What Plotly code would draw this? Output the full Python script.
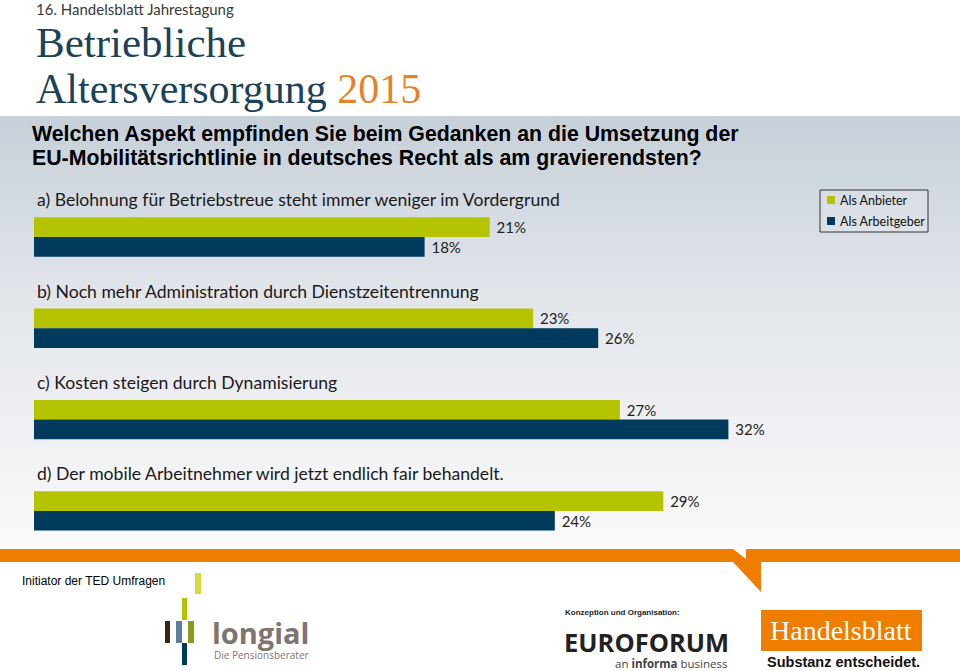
import plotly.graph_objects as go

W, H = 960, 671

categories = ["a", "b", "c", "d"]
category_labels = [
    "a) Belohnung für Betriebstreue steht immer weniger im Vordergrund",
    "b) Noch mehr Administration durch Dienstzeitentrennung",
    "c) Kosten steigen durch Dynamisierung",
    "d) Der mobile Arbeitnehmer wird jetzt endlich fair behandelt.",
]
anbieter = [21, 23, 27, 29]
arbeitgeber = [18, 26, 32, 24]
series_names = ["Als Anbieter", "Als Arbeitgeber"]

GREEN = "#b5c400"
NAVY = "#003a5d"
ORANGE = "#ee7d00"


def px(x):
    return x / W


def py(y):
    return 1 - y / H


LABEL_FONT = dict(family="Lato, Open Sans, sans-serif", size=15, color="#222222")

fig = go.Figure()
fig.add_trace(go.Bar(
    y=categories, x=anbieter, orientation="h", name=series_names[0],
    marker=dict(color=GREEN, line=dict(width=0)),
    text=[f" {v}%" for v in anbieter], textposition="outside",
    constraintext="none", cliponaxis=False, textfont=LABEL_FONT,
    hoverinfo="skip", showlegend=False,
))
fig.add_trace(go.Bar(
    y=categories, x=arbeitgeber, orientation="h", name=series_names[1],
    marker=dict(color=NAVY, line=dict(width=0)),
    text=[f" {v}%" for v in arbeitgeber], textposition="outside",
    constraintext="none", cliponaxis=False, textfont=LABEL_FONT,
    hoverinfo="skip", showlegend=False,
))

shapes = []
# gradient background
top, bot = 116, 546
n = 43
c0 = (200, 209, 218)
c1 = (225, 229, 234)
c2 = (250, 250, 251)
for i in range(n):
    y0 = top + (bot - top) * i / n
    y1 = top + (bot - top) * (i + 1) / n + 0.6
    t = i / (n - 1)
    if t < 0.4:
        u = t / 0.4
        c = tuple(int(c0[k] + (c1[k] - c0[k]) * u) for k in range(3))
    else:
        u = (t - 0.4) / 0.6
        c = tuple(int(c1[k] + (c2[k] - c1[k]) * u) for k in range(3))
    shapes.append(dict(type="rect", xref="paper", yref="paper", x0=0, x1=1,
                       y0=py(y1), y1=py(y0), fillcolor=f"rgb{c}",
                       line=dict(width=0), layer="below"))

# orange footer band with tail
pts = [(0, 549), (733, 549), (746, 559), (746, 549), (960, 549), (960, 562),
       (761, 562), (761, 592), (733, 562), (0, 562)]
path = "M " + " L ".join(f"{px(x):.5f},{py(y):.5f}" for x, y in pts) + " Z"
shapes.append(dict(type="path", xref="paper", yref="paper", path=path,
                   fillcolor=ORANGE, line=dict(width=0)))

# longial logo blocks
logo = [
    (195, 201, 573, 594, "#d8dc3a"),
    (182, 187, 598, 620, "#b5c400"),
    (165, 170, 621, 643, "#3a2418"),
    (176, 182, 621, 643, "#5b7f9c"),
    (188, 194, 621, 643, "#8a9a1a"),
    (182, 187, 643, 665, "#003a5d"),
]
for x0, x1, y0, y1, col in logo:
    shapes.append(dict(type="rect", xref="paper", yref="paper",
                       x0=px(x0), x1=px(x1), y0=py(y1), y1=py(y0),
                       fillcolor=col, line=dict(width=0)))

# Handelsblatt box
shapes.append(dict(type="rect", xref="paper", yref="paper",
                   x0=px(761), x1=px(922), y0=py(651), y1=py(610),
                   fillcolor=ORANGE, line=dict(width=0)))

# legend box and swatches
shapes.append(dict(type="rect", xref="paper", yref="paper",
                   x0=px(820), x1=px(928), y0=py(232), y1=py(190),
                   fillcolor="rgba(255,255,255,0.15)", line=dict(color="#333", width=1)))
for (yy, col) in [(200, GREEN), (221, NAVY)]:
    shapes.append(dict(type="rect", xref="paper", yref="paper",
                       x0=px(827), x1=px(835), y0=py(yy + 4), y1=py(yy - 4),
                       fillcolor=col, line=dict(width=0)))

ann = []


def text(x, y, s, size, color="#000", family="Liberation Sans, Arial", xanchor="left", **kw):
    ann.append(dict(x=px(x), y=py(y), xref="paper", yref="paper", text=s,
                    showarrow=False, xanchor=xanchor, yanchor="middle",
                    font=dict(size=size, color=color, family=family), **kw))


# legend labels
text(838, 200, series_names[0], 12.5, "#111", "Lato, Open Sans, sans-serif")
text(838, 221, series_names[1], 12.5, "#111", "Lato, Open Sans, sans-serif")

# header
text(34, 9, "16. Handelsblatt Jahrestagung", 15, "#3a3a3a", "Lato, Open Sans, sans-serif")
text(34, 43, "Betriebliche", 43, "#1b4258", "Liberation Serif, serif")
text(34, 89, "Altersversorgung <span style='color:#e5822a'>2015</span>", 42, "#1b4258",
     "Liberation Serif, serif")

# question
text(30, 134, "<b>Welchen Aspekt empfinden Sie beim Gedanken an die Umsetzung der</b>", 21.3,
     "#000", "Liberation Sans Narrow, Arial Narrow, Liberation Sans")
text(30, 158, "<b>EU-Mobilitätsrichtlinie in deutsches Recht als am gravierendsten?</b>", 21.3,
     "#000", "Liberation Sans Narrow, Arial Narrow, Liberation Sans")

# category labels
for cat, lab in zip(categories, category_labels):
    ann.append(dict(x=0, y=cat, xref="x", yref="y", text=lab, showarrow=False,
                    xanchor="left", yanchor="middle", yshift=37, xshift=1,
                    font=dict(size=17.6, color="#1a1a1a", family="Lato, Open Sans, sans-serif")))

# footer
text(20, 581, "Initiator der TED Umfragen", 12, "#000", "Liberation Sans, Arial")
text(210, 632, "<b>longial</b>", 29, "#7d7570", "Open Sans, Lato, sans-serif")
text(212, 655, "Die Pensionsberater", 10, "#7d7570", "Open Sans, Lato, sans-serif")
text(563, 612, "<b>Konzeption und Organisation:</b>", 8, "#222", "Liberation Sans, Arial")
text(562, 642, "<b>EUROFORUM</b>", 25.5, "#222", "Open Sans, Liberation Sans, sans-serif")
text(729, 663, "an <b>informa</b> business", 11.5, "#444", "Open Sans, Liberation Sans, sans-serif",
     xanchor="right")
text(841, 630, "Handelsblatt", 28, "#ffffff", "Liberation Serif, serif", xanchor="center")
text(843, 662, "<b>Substanz entscheidet.</b>", 14.5, "#111", "Liberation Sans, Arial",
     xanchor="center")

# axis geometry: first category centred at y=237, spacing 91.3 px
y_top = 237 - 0.5 * 91.3
y_bot = y_top + 4 * 91.3
fig.update_layout(
    width=W, height=H, margin=dict(l=0, r=0, t=0, b=0),
    paper_bgcolor="white", plot_bgcolor="rgba(0,0,0,0)",
    barmode="group", bargap=0.568, bargroupgap=0,
    xaxis=dict(domain=[px(34), 1], range=[0, 926 / 21.7], visible=False, fixedrange=True),
    yaxis=dict(domain=[py(y_bot), py(y_top)], type="category", categoryarray=categories,
               range=[3.5, -0.5], visible=False, fixedrange=True),
    shapes=shapes, annotations=ann, showlegend=False,
)

fig.write_html("out.html")
